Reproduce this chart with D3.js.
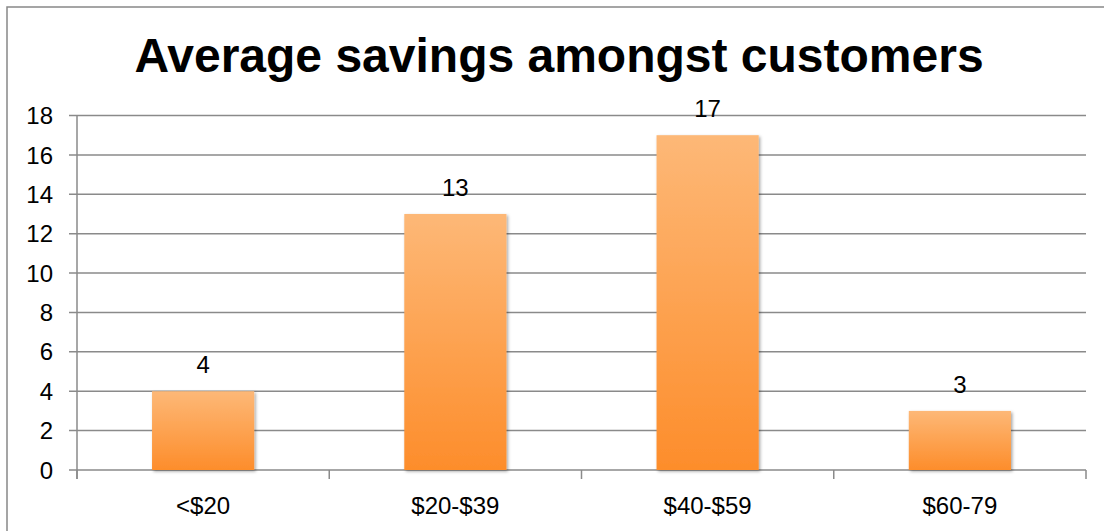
<!DOCTYPE html>
<html>
<head>
<meta charset="utf-8">
<script src="https://cdnjs.cloudflare.com/ajax/libs/d3/7.8.5/d3.min.js"></script>
<style>
  body { margin: 0; background: #fff; }
  text { font-family: "Liberation Sans", Arial, sans-serif; }
</style>
</head>
<body>
<div id="chart"></div>
<script>
// chart data
var categories = ["<$20", "$20-$39", "$40-$59", "$60-79"];
var counts = [4, 13, 17, 3];
var yTicks = [0, 2, 4, 6, 8, 10, 12, 14, 16, 18];
var title = "Average savings amongst customers";

var width = 1104, height = 531;
var margin = {left: 77, right: 18, top: 115.5, bottom: 61};

var svg = d3.select("#chart").append("svg")
    .attr("width", width)
    .attr("height", height);

// outer frame (runs off the right and bottom edges)
svg.append("rect")
    .attr("x", 7).attr("y", 7)
    .attr("width", 1120).attr("height", 540)
    .attr("fill", "#fff")
    .attr("stroke", "#888")
    .attr("stroke-width", 1.5);

var defs = svg.append("defs");
var grad = defs.append("linearGradient")
    .attr("id", "barGrad")
    .attr("x1", 0).attr("y1", 0).attr("x2", 0).attr("y2", 1);
grad.append("stop").attr("offset", "0%").attr("stop-color", "#fdb877");
grad.append("stop").attr("offset", "100%").attr("stop-color", "#fd8d2b");

var shadow = defs.append("filter").attr("id", "shadow")
    .attr("x", "-10%").attr("y", "-10%").attr("width", "130%").attr("height", "130%");
shadow.append("feDropShadow")
    .attr("dx", 1.5).attr("dy", 1.5).attr("stdDeviation", 1.5)
    .attr("flood-color", "#000").attr("flood-opacity", 0.35);

var x = d3.scaleBand()
    .domain(categories)
    .range([margin.left, width - margin.right])
    .paddingInner(0.595)
    .paddingOuter(0.2975);

var y = d3.scaleLinear()
    .domain([0, 18])
    .range([height - margin.bottom, margin.top]);

// gridlines
svg.append("g")
  .selectAll("line")
  .data(yTicks)
  .enter()
  .append("line")
    .attr("x1", margin.left - 8)
    .attr("x2", width - margin.right)
    .attr("y1", function(d) { return y(d); })
    .attr("y2", function(d) { return y(d); })
    .attr("stroke", "#8a8a8a")
    .attr("stroke-width", 1.5);

// y axis line
svg.append("line")
    .attr("x1", margin.left).attr("x2", margin.left)
    .attr("y1", y(18)).attr("y2", y(0) + 9)
    .attr("stroke", "#8a8a8a").attr("stroke-width", 1.5);

// category ticks
var step = x.step();
var bounds = d3.range(categories.length + 1).map(function(i) { return margin.left + i * step; });
svg.append("g")
  .selectAll("line")
  .data(bounds)
  .enter()
  .append("line")
    .attr("x1", function(d) { return d; })
    .attr("x2", function(d) { return d; })
    .attr("y1", y(0))
    .attr("y2", y(0) + 9)
    .attr("stroke", "#8a8a8a")
    .attr("stroke-width", 1.5);

// y tick labels
svg.append("g")
  .selectAll("text")
  .data(yTicks)
  .enter()
  .append("text")
    .attr("x", 53)
    .attr("y", function(d) { return y(d); })
    .attr("dy", "0.36em")
    .attr("text-anchor", "end")
    .style("font-size", "24px")
    .text(function(d) { return d; });

// bars
svg.append("g")
  .selectAll("rect")
  .data(counts)
  .enter()
  .append("rect")
    .attr("x", function(d, i) { return x(categories[i]); })
    .attr("y", function(d) { return y(d); })
    .attr("width", x.bandwidth())
    .attr("height", function(d) { return y(0) - y(d); })
    .attr("fill", "url(#barGrad)")
    .attr("filter", "url(#shadow)");

// value labels
svg.append("g")
  .selectAll("text")
  .data(counts)
  .enter()
  .append("text")
    .attr("x", function(d, i) { return x(categories[i]) + x.bandwidth() / 2; })
    .attr("y", function(d) { return y(d) - 18; })
    .attr("text-anchor", "middle")
    .style("font-size", "24px")
    .text(function(d) { return d; });

// category labels
svg.append("g")
  .selectAll("text")
  .data(categories)
  .enter()
  .append("text")
    .attr("x", function(d) { return x(d) + x.bandwidth() / 2; })
    .attr("y", 514)
    .attr("text-anchor", "middle")
    .style("font-size", "24px")
    .text(function(d) { return d; });

// title
svg.append("text")
    .attr("x", 559)
    .attr("y", 72)
    .attr("text-anchor", "middle")
    .style("font-size", "48px")
    .style("font-weight", "bold")
    .text(title);
</script>
</body>
</html>
